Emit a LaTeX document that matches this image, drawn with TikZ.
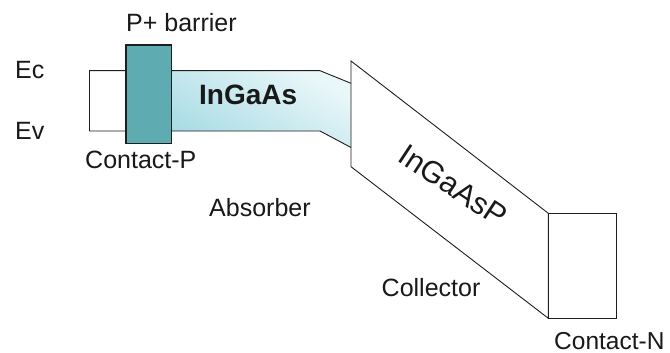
\documentclass[tikz,border=0pt]{standalone}
\usepackage{fontspec}
\setmainfont{Liberation Sans}
\definecolor{barrierfill}{RGB}{94,172,178}
\definecolor{absdark}{RGB}{165,218,228}
\definecolor{abslight}{RGB}{234,247,249}
\definecolor{edgecol}{RGB}{30,30,30}
\definecolor{txtcol}{RGB}{25,25,25}
\begin{document}
\begin{tikzpicture}[x=1pt,y=-1pt,
  lbl/.style={font=\fontsize{25}{29}\selectfont, inner sep=0pt, text=txtcol, anchor=base west},
  band/.style={draw=edgecol, line width=0.9pt}]
\useasboundingbox (0,0) rectangle (670,353);
\fill[white] (0,0) rectangle (670,353);
% key points
\coordinate (ecL) at (89,70.7);
\coordinate (evL) at (89,131);
\coordinate (ecR) at (320,70.7);
\coordinate (evR) at (320,131);
\coordinate (qTL) at (351,61);
\coordinate (qBL) at (351,166.7);
\coordinate (qTR) at (548.3,213.3);
\coordinate (qBR) at (548.3,318.3);
\coordinate (tTop) at (351,83.3);
\coordinate (tBot) at (351,147.5);
% absorber fill
\shade[top color=abslight, bottom color=absdark, shading angle=-30]
  (150,70.7) -- (ecR) -- (tTop) -- (tBot) -- (evR) -- (150,131) -- cycle;
% band edges
\draw[band] (ecL) -- (ecR) -- (tTop);
\draw[band] (evL) -- (evR) -- (tBot);
\draw[band] (ecL) -- (evL);
% P+ barrier
\draw[fill=barrierfill, draw=edgecol, line width=1.2pt] (126,45) rectangle (171.5,143.3);
% collector parallelogram
\draw[band] (qTL) -- (qTR) -- (qBR) -- (qBL) -- cycle;
% contact-N
\draw[band] (qTR) rectangle (616.7,318.3);
% labels
\node[lbl] (ec) at (15,78.3) {Ec};
\node[lbl] (ev) at (15,139.3) {Ev};
\node[lbl] (pbar) at (126,31.7) {P+ barrier};
\node[lbl, font=\fontsize{28}{31}\bfseries] (ingaas) at (199,105) {InGaAs};
\node[lbl] (contp) at (85,168) {Contact-P};
\node[lbl] (absorber) at (209,216.7) {Absorber};
\node[lbl] (collector) at (381.5,296.7) {Collector};
\node[lbl, font=\fontsize{24.5}{29}\selectfont] (contn) at (554,349.3) {Contact-N};
\node[font=\fontsize{30.5}{34}\selectfont, text=txtcol, inner sep=0pt, rotate=-33.5] (ingaasp) at (453,185.5) {InGaAsP};
\end{tikzpicture}
\end{document}
